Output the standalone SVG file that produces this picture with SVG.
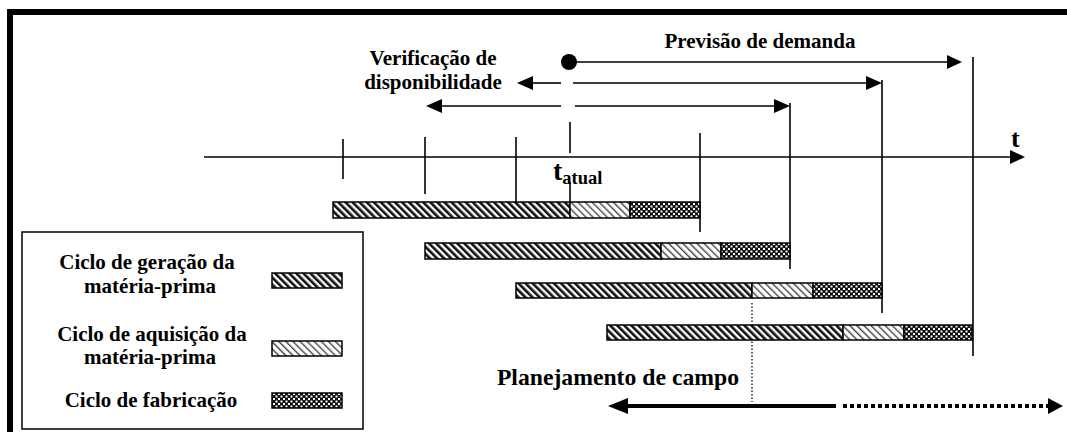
<svg xmlns="http://www.w3.org/2000/svg" width="1067" height="432" viewBox="0 0 1067 432">
<style>
.t{font-family:"Liberation Serif","Times New Roman",serif;font-weight:bold;font-size:21px;fill:#000}
.ln{stroke:#000;stroke-width:1.6;fill:none}
.bar{stroke:#000;stroke-width:1.5}
.hd{fill:url(#hatchDark)}
.hl{fill:url(#hatchLight)}
.ck{fill:url(#checker)}
.ah{fill:#000}
</style>
<defs>
<pattern id="hatchDark" patternUnits="userSpaceOnUse" width="5" height="5" patternTransform="rotate(-45)">
<rect width="5" height="5" fill="#fff"/>
<rect width="2.6" height="5" fill="#111"/>
</pattern>
<pattern id="hatchLight" patternUnits="userSpaceOnUse" width="5" height="5" patternTransform="rotate(-45)">
<rect width="5" height="5" fill="#fff"/>
<rect width="1.4" height="5" fill="#444"/>
</pattern>
<pattern id="checker" patternUnits="userSpaceOnUse" width="5" height="5">
<rect width="5" height="5" fill="#111"/>
<rect x="0.5" y="0.5" width="2" height="2" fill="#fff"/>
<rect x="3" y="3" width="2" height="2" fill="#fff"/>
</pattern>
</defs>
<rect width="1067" height="432" fill="#fff"/>
<path id="frame" d="M10,440 V12 H1080" fill="none" stroke="#000" stroke-width="6"/>

<g id="connectors">
<line class="ln" x1="204" y1="157" x2="1012" y2="157"/>
<polygon class="ah" points="1010,150 1025,157 1010,164"/>
<line class="ln" x1="343" y1="139" x2="343" y2="179"/>
<line class="ln" x1="425" y1="137" x2="425" y2="194"/>
<line class="ln" x1="516" y1="137" x2="516" y2="202"/>
<line class="ln" x1="570" y1="122" x2="570" y2="153"/>
<line class="ln" x1="570" y1="182" x2="570" y2="218"/>
<line class="ln" x1="700" y1="133" x2="700" y2="232"/>
<line class="ln" x1="790" y1="103" x2="790" y2="269"/>
<line class="ln" x1="882" y1="80" x2="882" y2="313"/>
<line class="ln" x1="973" y1="57" x2="973" y2="356"/>
<circle cx="569" cy="62" r="8" fill="#000"/>
<line class="ln" x1="569" y1="62" x2="949" y2="62"/>
<polygon class="ah" points="947,55 962,62 947,69"/>
<polygon class="ah" points="517,83 533,76 533,90"/>
<line class="ln" x1="532" y1="83" x2="561" y2="83"/>
<line class="ln" x1="573" y1="83" x2="867" y2="83"/>
<polygon class="ah" points="866,76 882,83 866,90"/>
<polygon class="ah" points="426,106 442,99 442,113"/>
<line class="ln" x1="441" y1="106" x2="561" y2="106"/>
<line class="ln" x1="575" y1="106" x2="775" y2="106"/>
<polygon class="ah" points="774,99 790,106 774,113"/>
<line x1="752" y1="303" x2="752" y2="402" stroke="#000" stroke-width="1.3" stroke-dasharray="1.5 2"/>
<polygon class="ah" points="608,406 628,398 628,414"/>
<line x1="626" y1="406" x2="836" y2="406" stroke="#000" stroke-width="4"/>
<line x1="843" y1="406" x2="1049" y2="406" stroke="#000" stroke-width="4" stroke-dasharray="4 3"/>
<polygon class="ah" points="1048,398 1063,406 1048,414"/>
</g>

<g id="bar1">
<rect class="bar hd" x="333" y="202" width="237" height="16"/>
<rect class="bar hl" x="570" y="202" width="60" height="16"/>
<rect class="bar ck" x="630" y="202" width="70" height="16"/>
</g>
<g id="bar2">
<rect class="bar hd" x="425" y="243" width="236" height="16"/>
<rect class="bar hl" x="661" y="243" width="60" height="16"/>
<rect class="bar ck" x="721" y="243" width="69" height="16"/>
</g>
<g id="bar3">
<rect class="bar hd" x="516" y="283" width="236" height="15"/>
<rect class="bar hl" x="752" y="283" width="61" height="15"/>
<rect class="bar ck" x="813" y="283" width="69" height="15"/>
</g>
<g id="bar4">
<rect class="bar hd" x="607" y="325" width="236" height="15"/>
<rect class="bar hl" x="843" y="325" width="61" height="15"/>
<rect class="bar ck" x="904" y="325" width="68" height="15"/>
</g>

<g id="labels">
<text class="t" x="760" y="48" text-anchor="middle">Previsão de demanda</text>
<text class="t" x="433" y="65" text-anchor="middle">Verificação de</text>
<text class="t" x="433" y="89" text-anchor="middle">disponibilidade</text>
<text class="t" x="739" y="385" text-anchor="end" style="font-size:23.7px">Planejamento de campo</text>
<text class="t" x="1011" y="147" style="font-size:26px">t</text>
<text class="t" x="553" y="180" style="font-size:28px">t<tspan dy="4" style="font-size:18.5px">atual</tspan></text>
</g>

<g id="legend">
<rect x="22" y="232" width="341" height="197" fill="#fff" stroke="#000" stroke-width="1.5"/>
<text class="t" x="147" y="269" text-anchor="middle">Ciclo de geração da</text>
<text class="t" x="150" y="293" text-anchor="middle">matéria-prima</text>
<rect class="bar hd" x="272" y="273" width="70" height="15"/>
<text class="t" x="152" y="341" text-anchor="middle">Ciclo de aquisição da</text>
<text class="t" x="150" y="364" text-anchor="middle">matéria-prima</text>
<rect class="bar hl" x="272" y="341" width="70" height="15"/>
<text class="t" x="151" y="407" text-anchor="middle">Ciclo de fabricação</text>
<rect class="bar ck" x="272" y="393" width="70" height="15"/>
</g>
</svg>
